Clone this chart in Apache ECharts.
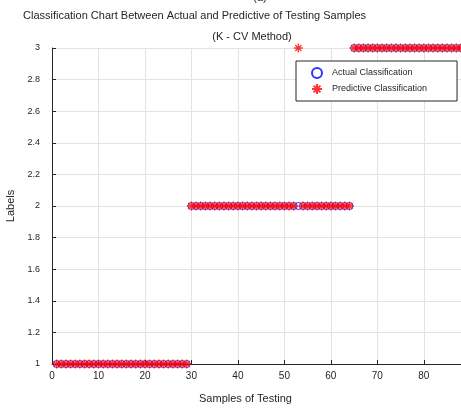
<!DOCTYPE html>
<html>
<head>
<meta charset="utf-8">
<script src="https://cdn.jsdelivr.net/npm/echarts@6/dist/echarts.min.js"></script>
<style>
  html, body { margin: 0; padding: 0; background: #fff; }
  #chart { width: 461px; height: 410px; }
</style>
</head>
<body>
<div id="chart"></div>
<script>
// Sample numbers of the testing set
const sampleNo = [
  1, 2, 3, 4, 5, 6, 7, 8, 9, 10, 11, 12, 13, 14, 15, 16, 17, 18, 19, 20,
  21, 22, 23, 24, 25, 26, 27, 28, 29, 30, 31, 32, 33, 34, 35, 36, 37, 38, 39, 40,
  41, 42, 43, 44, 45, 46, 47, 48, 49, 50, 51, 52, 53, 54, 55, 56, 57, 58, 59, 60,
  61, 62, 63, 64, 65, 66, 67, 68, 69, 70, 71, 72, 73, 74, 75, 76, 77, 78, 79, 80,
  81, 82, 83, 84, 85, 86, 87, 88
];

// True class of every sample
const actualClass = [
  1, 1, 1, 1, 1, 1, 1, 1, 1, 1, 1, 1, 1, 1, 1, 1, 1, 1, 1, 1,
  1, 1, 1, 1, 1, 1, 1, 1, 1, 2, 2, 2, 2, 2, 2, 2, 2, 2, 2, 2,
  2, 2, 2, 2, 2, 2, 2, 2, 2, 2, 2, 2, 2, 2, 2, 2, 2, 2, 2, 2,
  2, 2, 2, 2, 3, 3, 3, 3, 3, 3, 3, 3, 3, 3, 3, 3, 3, 3, 3, 3,
  3, 3, 3, 3, 3, 3, 3, 3
];

// Class returned by the K-CV model
const predictedClass = [
  1, 1, 1, 1, 1, 1, 1, 1, 1, 1, 1, 1, 1, 1, 1, 1, 1, 1, 1, 1,
  1, 1, 1, 1, 1, 1, 1, 1, 1, 2, 2, 2, 2, 2, 2, 2, 2, 2, 2, 2,
  2, 2, 2, 2, 2, 2, 2, 2, 2, 2, 2, 2, 3, 2, 2, 2, 2, 2, 2, 2,
  2, 2, 2, 2, 3, 3, 3, 3, 3, 3, 3, 3, 3, 3, 3, 3, 3, 3, 3, 3,
  3, 3, 3, 3, 3, 3, 3, 3
];

const xTicks = [0, 10, 20, 30, 40, 50, 60, 70, 80];
const yTicks = [1, 1.2, 1.4, 1.6, 1.8, 2, 2.2, 2.4, 2.6, 2.8, 3];

const FONT = '"Liberation Sans", Arial, Helvetica, sans-serif';
const INK = '#262626';
const GRIDC = '#e3e3e3';

// asterisk marker drawn as stroked lines
const ASTERISK = 'path://M0,5L10,5M5,0L5,10M1.6,1.6L8.4,8.4M1.6,8.4L8.4,1.6';

const actualPts = sampleNo.map((s, i) => [s, actualClass[i]]);
const predPts = sampleNo.map((s, i) => [s, predictedClass[i]]);

const chart = echarts.init(document.getElementById('chart'), null, { renderer: 'canvas' });

chart.setOption({
  animation: false,
  backgroundColor: '#ffffff',
  textStyle: { fontFamily: FONT },
  title: [
    {
      text: 'Classification Chart Between Actual and Predictive of Testing Samples',
      left: 18, top: 5,
      textStyle: { fontFamily: FONT, fontSize: 11, fontWeight: 'normal', color: INK }
    },
    {
      text: '(K - CV Method)',
      left: 247, top: 26, textAlign: 'center',
      textStyle: { fontFamily: FONT, fontSize: 11, fontWeight: 'normal', color: INK }
    },
    {
      text: '(a)',
      left: 255, top: -13, textAlign: 'center',
      textStyle: { fontFamily: FONT, fontSize: 11, fontWeight: 'normal', color: INK }
    }
  ],
  grid: { left: 52, top: 48, right: 0, bottom: 46, containLabel: false, outerBoundsMode: 'none' },
  legend: {
    orient: 'vertical',
    left: 296, top: 61,
    padding: [6, 30, 6, 15],
    itemWidth: 10, itemHeight: 10, itemGap: 4,
    backgroundColor: '#ffffff',
    borderColor: INK, borderWidth: 1, borderRadius: 0,
    textStyle: { fontFamily: FONT, fontSize: 9, color: INK, padding: [0, 0, 0, 5] },
    data: ['Actual Classification', 'Predictive Classification']
  },
  xAxis: {
    type: 'value',
    min: 0, max: 88, interval: 10,
    name: 'Samples of Testing',
    nameLocation: 'middle', nameGap: 29,
    nameTextStyle: { fontFamily: FONT, fontSize: 11, color: INK, padding: [0, 0, 0, -22] },
    axisLine: { show: true, onZero: false, lineStyle: { color: INK, width: 1 } },
    axisTick: { show: true, inside: true, length: 4, lineStyle: { color: INK } },
    axisLabel: {
      color: INK, fontFamily: FONT, fontSize: 10, margin: 7,
      showMaxLabel: false,
      formatter: v => (xTicks.indexOf(v) >= 0 ? String(v) : '')
    },
    splitLine: { show: true, lineStyle: { color: GRIDC, width: 1 } }
  },
  yAxis: {
    type: 'value',
    min: 1, max: 3, interval: 0.2,
    name: 'Labels',
    nameLocation: 'middle', nameGap: 32, nameRotate: 90,
    nameTextStyle: { fontFamily: FONT, fontSize: 11, color: INK },
    axisLine: { show: true, onZero: false, lineStyle: { color: INK, width: 1 } },
    axisTick: { show: true, inside: true, length: 4, lineStyle: { color: INK } },
    axisLabel: {
      color: INK, fontFamily: FONT, fontSize: 9, margin: 12,
      formatter: v => {
        const r = Math.round(v * 10) / 10;
        return yTicks.indexOf(r) >= 0 ? String(r) : '';
      }
    },
    splitLine: { show: true, lineStyle: { color: GRIDC, width: 1 } }
  },
  series: [
    {
      name: 'Actual Classification',
      type: 'scatter',
      symbol: 'circle',
      symbolSize: 7,
      itemStyle: { color: 'rgba(0,0,0,0)', borderColor: '#0000ff', borderWidth: 1 },
      data: actualPts,
      z: 2
    },
    {
      name: 'Predictive Classification',
      type: 'scatter',
      symbol: ASTERISK,
      symbolSize: 9,
      itemStyle: { color: 'rgba(0,0,0,0)', borderColor: '#ff0000', borderWidth: 1.3 },
      data: predPts,
      z: 3
    }
  ]
});
</script>
</body>
</html>
